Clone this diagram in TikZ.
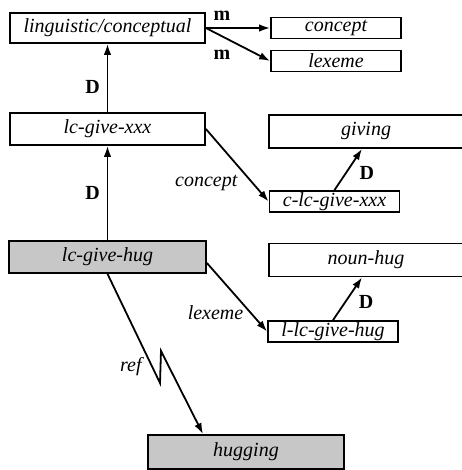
\documentclass[tikz,border=0pt]{standalone}
\usepackage{fontspec}
\setmainfont{Liberation Serif}
\usetikzlibrary{arrows.meta}

\begin{document}
\begin{tikzpicture}[node distance=50pt]

\tikzstyle{frame} = [rectangle, text centered, draw=black, line width=0.9pt, inner sep=0pt, font=\itshape, minimum width=97.5pt, minimum height=16pt]
\tikzstyle{role} = [rectangle, text centered, draw=black, line width=0.9pt, inner sep=0pt, font=\itshape, minimum width=65pt, minimum height=10.5pt]
\tikzstyle{open} = [frame, minimum width=97pt, minimum height=16.5pt]
\tikzstyle{instance} = [frame, fill=black!22]
\tikzstyle{lbl} = [font=\bfseries]
\tikzstyle{elbl} = [font=\itshape]

\tikzstyle{arrow} = [line width=0.9pt,->,>={Latex[length=5.5pt,width=3.8pt]}]

\useasboundingbox (0,0) rectangle (230.5pt,-235pt);

\node (lingcon) [frame, minimum height=15pt] at (53.75pt,-14pt) {linguistic/conceptual};
\node (concept) [role, right of = lingcon, xshift = 64.25pt] {concept};
\node (lexeme) [role, below of = concept, node distance = 16.5pt] {lexeme};
\node (lcxxx) [frame, below of = lingcon, yshift = -0.5pt] {lc-give-xxx};
\node (giving) [open, right of = lcxxx, xshift = 79.25pt, yshift = -1.25pt] {giving};
\node (clcxxx) [role, below of = giving, node distance = 35pt, xshift = -15.75pt] {c-lc-give-xxx};
\node (lchug) [instance, minimum width=98.5pt, below of = lcxxx, yshift = -14pt] {lc-give-hug};
\node (nounhug) [open, right of = lchug, xshift = 79.25pt, yshift = -1.5pt] {noun-hug};
\node (llchug) [role, below of = nounhug, node distance = 35.75pt, xshift = -16.5pt] {l-lc-give-hug};
\node (hugging) [instance, minimum width=98pt, minimum height=17pt, below of = lchug, xshift = 69.25pt, yshift = -47.5pt] {hugging\hspace{10pt}};

\coordinate (zigdown) at (80pt,-191.5pt);
\coordinate (zigup) at (80.5pt,-175.5pt);

\draw [arrow] (lcxxx) -- node[lbl, left, pos=0.37] {D} (lingcon);
\draw [arrow] (lchug) -- node[lbl, left] {D} (lcxxx);
\draw [arrow] (lingcon.east) -- node[lbl, above, pos=0.25] {m} (concept.west);
\draw [arrow] (lingcon.east) -- node[lbl, below=3pt, pos=0.25] {m} (lexeme.west);
\draw [arrow] (lcxxx.east) -- node[elbl, left=4pt, pos=0.75] {concept} (clcxxx.west);
\draw [arrow] (clcxxx.north) -- node[lbl, right=3pt, pos=0.42] {D} ([xshift=-2pt]giving.south);
\draw [arrow] ([yshift=-3pt]lchug.east) -- node[elbl, left, pos=0.73] {lexeme} (llchug.west);
\draw [arrow] (llchug.north) -- node[lbl, right=3pt, pos=0.42] {D} ([xshift=-2pt]nounhug.south);
\draw [arrow] (lchug.south) -- node[elbl, left=1.5pt, pos=0.85] {ref} (zigdown) -- (zigup) -- ([xshift=-21.5pt]hugging.north);

\end{tikzpicture}
\end{document}
